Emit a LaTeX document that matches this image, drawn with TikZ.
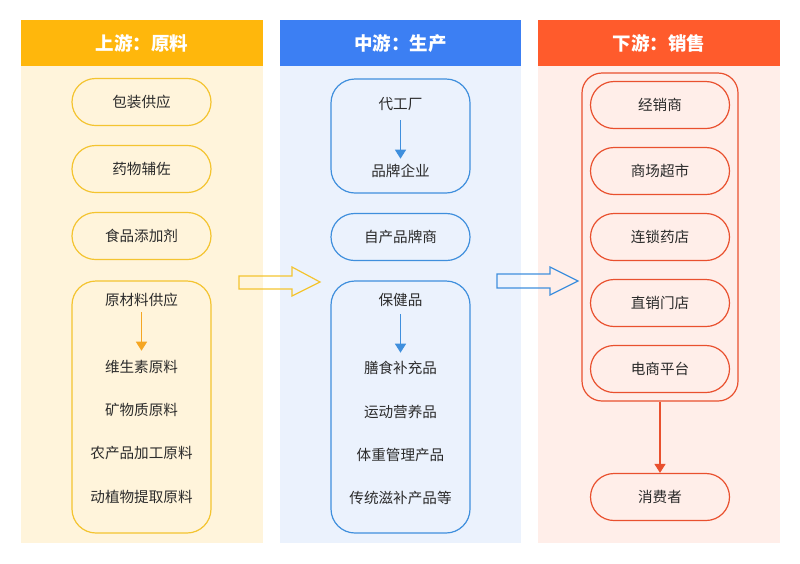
\documentclass[tikz,border=0pt]{standalone}
\usepackage{fontspec}
\setmainfont{Noto Sans CJK SC}
\usetikzlibrary{arrows.meta}

\definecolor{yhead}{HTML}{FFB70C}
\definecolor{ybody}{HTML}{FFF4DB}
\definecolor{yline}{HTML}{F4C430}
\definecolor{yarrow}{HTML}{F5A623}
\definecolor{bhead}{HTML}{3C7FF3}
\definecolor{bbody}{HTML}{EBF2FD}
\definecolor{bline}{HTML}{3F8FDD}
\definecolor{rhead}{HTML}{FF5B2C}
\definecolor{rbody}{HTML}{FFEEE9}
\definecolor{rline}{HTML}{E9502E}
\definecolor{txt}{HTML}{2B2B2B}

\begin{document}
\begin{tikzpicture}[x=1pt,y=-1pt]
        \tikzstyle{every node} = [font=\fontsize{14.6}{16}\selectfont, text=txt]
        \tikzstyle{title} = [font=\fontsize{18.5}{20}\selectfont\bfseries, text=white]
        \tikzstyle{pill} = [draw, line width=1.2pt, rounded corners=23.5pt, minimum width=139pt, minimum height=47pt]
        \tikzstyle{group} = [draw, line width=1.2pt, rounded corners=24pt, minimum width=139pt]
        \tikzstyle{sarrow} = [line width=1.4pt, -{Triangle[length=9pt,width=11pt]}]
        \useasboundingbox (0,0) rectangle (800,563);

        % columns
        \fill[ybody] (21,66) rectangle (263,543);
        \fill[yhead] (21,20) rectangle (263,66);
        \fill[bbody] (280,66) rectangle (521,543);
        \fill[bhead] (280,20) rectangle (521,66);
        \fill[rbody] (538,66) rectangle (780,543);
        \fill[rhead] (538,20) rectangle (780,66);
        \node[title] (h1) at (142,43) {上游：原料};
        \node[title] (h2) at (400.5,43) {中游：生产};
        \node[title] (h3) at (659,43) {下游：销售};

        % upstream
        \node[pill, draw=yline] (u1) at (141.5,102) {包装供应};
        \node[pill, draw=yline] (u2) at (141.5,169) {药物辅佐};
        \node[pill, draw=yline] (u3) at (141.5,236) {食品添加剂};
        \node[group, draw=yline, minimum height=252pt] (ug) at (141.5,407) {};
        \node (u4) at (141.5,300) {原材料供应};
        \node (u5) at (141.5,367) {维生素原料};
        \node (u6) at (141.5,410) {矿物质原料};
        \node (u7) at (141.5,453) {农产品加工原料};
        \node (u8) at (141.5,497) {动植物提取原料};

        % midstream
        \node[group, draw=bline, minimum height=114pt] (mg1) at (400.5,136) {};
        \node (m1) at (400.5,104) {代工厂};
        \node (m2) at (400.5,171) {品牌企业};
        \node[pill, draw=bline] (m3) at (400.5,237) {自产品牌商};
        \node[group, draw=bline, minimum height=252pt] (mg2) at (400.5,407) {};
        \node (m4) at (400.5,300) {保健品};
        \node (m5) at (400.5,368) {膳食补充品};
        \node (m6) at (400.5,412) {运动营养品};
        \node (m7) at (400.5,455) {体重管理产品};
        \node (m8) at (400.5,498) {传统滋补产品等};

        % downstream
        \node[group, draw=rline, rounded corners=20pt, minimum width=156pt, minimum height=328pt] (dg) at (660,237) {};
        \node[pill, draw=rline] (d1) at (660,105) {经销商};
        \node[pill, draw=rline] (d2) at (660,171) {商场超市};
        \node[pill, draw=rline] (d3) at (660,237) {连锁药店};
        \node[pill, draw=rline] (d4) at (660,303) {直销门店};
        \node[pill, draw=rline] (d5) at (660,369) {电商平台};
        \node[pill, draw=rline] (d6) at (660,497) {消费者};

        \draw[sarrow, yarrow, shorten <=2pt, shorten >=6pt] (u4) -- (u5);
        \draw[sarrow, bline, shorten <=6pt, shorten >=2pt] (m1) -- (m2);
        \draw[sarrow, bline, shorten <=4pt, shorten >=5pt] (m4) -- (m5);
        \draw[sarrow, rline] (dg) -- (d6);

        % block arrows
        \draw[yline, line width=1.2pt] (239,276) -- (292,276) -- (292,267) -- (320,282)
            -- (292,296) -- (292,289) -- (239,289) -- cycle;
        \draw[bline, line width=1.2pt] (497,274) -- (550,274) -- (550,267) -- (578,281)
            -- (550,295) -- (550,288) -- (497,288) -- cycle;
\end{tikzpicture}
\end{document}
